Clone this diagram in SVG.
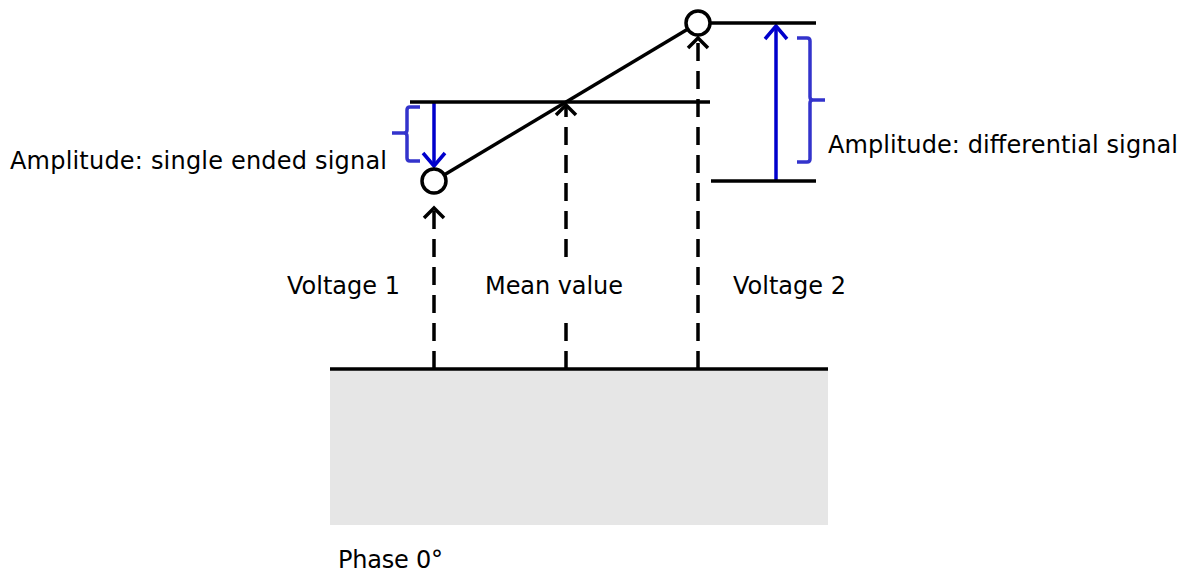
<svg xmlns="http://www.w3.org/2000/svg" width="1189" height="574" viewBox="0 0 1189 574">
<style>
.k{stroke:#000;stroke-width:3.5;fill:none}
.d{stroke:#000;stroke-width:3.5;fill:none;stroke-dasharray:18,10}
.b{stroke:#0000cc;stroke-width:3.5;fill:none}
.br{stroke:#3333cc;stroke-width:3.5;fill:none}
.t{font-family:"DejaVu Sans",Verdana,sans-serif;font-size:24px;fill:#000}
</style>
<rect width="1189" height="574" fill="#fff"/>
<g id="ground">
<rect x="330" y="369" width="498" height="156" fill="#e6e6e6"/>
<line class="k" x1="330" y1="369" x2="828" y2="369"/>
</g>
<g id="connectors">
<line class="d" x1="434" y1="369" x2="434" y2="208"/>
<path class="k" d="M424,218 L434,208 L444,218"/>
<line class="d" x1="566" y1="369" x2="566" y2="106"/>
<path class="k" d="M556,115 L566,105 L576,115"/>
<line class="d" x1="698" y1="369" x2="698" y2="38"/>
<path class="k" d="M688,48 L698,38 L708,48"/>
<line class="k" x1="434" y1="181" x2="698" y2="23"/>
<line class="b" x1="434" y1="102" x2="434" y2="166"/>
<path class="b" d="M423,153 L434,166 L445,153"/>
<line class="b" x1="776" y1="181" x2="776" y2="26"/>
<path class="b" d="M765,39 L776,26 L787,39"/>
</g>
<g id="levels">
<line class="k" x1="410" y1="102" x2="710" y2="102"/>
<line class="k" x1="710" y1="23" x2="816" y2="23"/>
<line class="k" x1="711" y1="181" x2="816" y2="181"/>
</g>
<g id="bracket-left">
<path class="br" d="M420,107 L410,107 Q407,107 407,110 L407,130 Q407,133 404,133 L392,133 M404,133 Q407,133 407,136 L407,158 Q407,161 410,161 L420,161"/>
</g>
<g id="bracket-right">
<path class="br" d="M797,38 L807,38 Q810,38 810,41 L810,97 Q810,100 813,100 L825,100 M813,100 Q810,100 810,103 L810,159 Q810,162 807,162 L797,162"/>
</g>
<g id="point1"><circle cx="434" cy="181" r="12" fill="#fff" stroke="#000" stroke-width="3.5"/></g>
<g id="point2"><circle cx="698" cy="23" r="12" fill="#fff" stroke="#000" stroke-width="3.5"/></g>
<g id="labels">
<text class="t" x="10" y="169" textLength="377">Amplitude: single ended signal</text>
<text class="t" x="828" y="153" textLength="350">Amplitude: differential signal</text>
<text class="t" x="287" y="294" textLength="113">Voltage 1</text>
<rect x="482" y="258" width="144" height="58" fill="#fff"/>
<text class="t" x="485" y="294" textLength="138">Mean value</text>
<text class="t" x="733" y="294" textLength="113">Voltage 2</text>
<text class="t" x="338" y="568" textLength="105">Phase 0°</text>
</g>
</svg>
